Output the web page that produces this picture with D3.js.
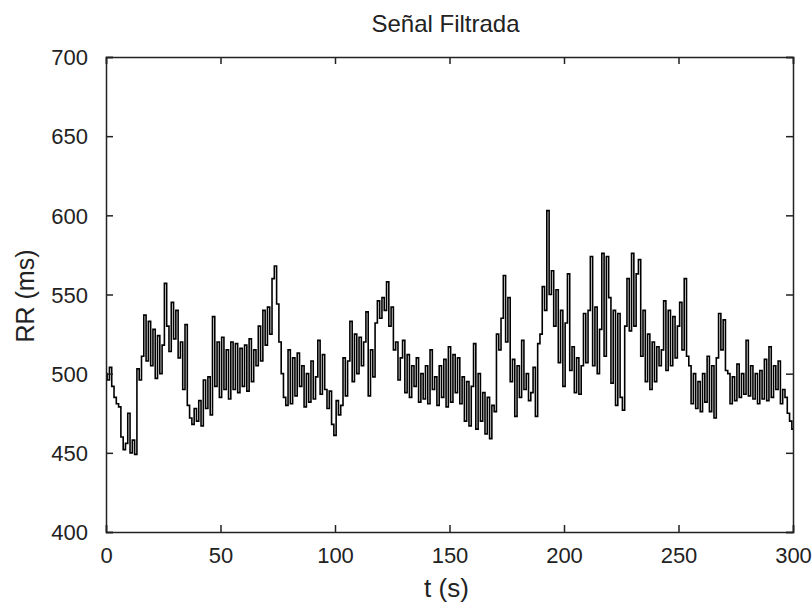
<!DOCTYPE html>
<html>
<head>
<meta charset="utf-8">
<script src="https://cdn.jsdelivr.net/npm/d3@7"></script>
<style>
  html, body { margin: 0; padding: 0; background: #fff; }
  svg { display: block; }
  text { font-family: "Liberation Sans", Arial, sans-serif; fill: #222; }
</style>
</head>
<body>
<svg id="chart" width="812" height="603"></svg>
<script>
// ---- Data ----
const title = "Señal Filtrada";
const xLabel = "t (s)";
const yLabel = "RR (ms)";
const xTicks = [0, 50, 100, 150, 200, 250, 300];
const yTicks = [400, 450, 500, 550, 600, 650, 700];
const timeStart = 0;      // s, first sample
const timeStep = 1;       // s, sample spacing
const rrValues = [
  500, 496, 504, 492, 485, 481, 479, 460, 452, 456,
  475, 450, 458, 449, 503, 496, 511, 537, 508, 533,
  505, 528, 497, 524, 500, 518, 557, 530, 514, 545,
  522, 540, 510, 520, 490, 531, 480, 472, 468, 478,
  470, 483, 467, 496, 478, 498, 474, 536, 492, 520,
  485, 523, 490, 515, 484, 520, 490, 519, 488, 516,
  492, 518, 489, 522, 495, 515, 505, 530, 508, 540,
  518, 542, 525, 560, 568, 544, 520, 500, 485, 480,
  515, 481, 510, 486, 513, 492, 505, 479, 500, 482,
  508, 484, 498, 521, 487, 512, 490, 478, 489, 468,
  461, 483, 474, 480, 510, 486, 508, 533, 495, 525,
  500, 523, 505, 520, 539, 486, 515, 498, 532, 546,
  535, 548, 540, 558, 530, 542, 515, 520, 496, 510,
  521, 488, 512, 485, 505, 492, 510, 482, 500, 484,
  505, 481, 515, 490, 498, 480, 505, 485, 509, 479,
  517, 482, 512, 488, 510, 481, 498, 470, 495, 467,
  492, 519, 465, 500, 470, 488, 462, 485, 459, 480,
  476, 525, 515, 535, 562, 520, 548, 495, 509, 473,
  505, 485, 521, 490, 500, 483, 488, 504, 473, 519,
  525, 555, 540, 603, 550, 565, 530, 553, 507, 540,
  492, 532, 563, 502, 517, 488, 510, 487, 505, 538,
  507, 540, 574, 505, 542, 500, 528, 576, 511, 574,
  548, 494, 540, 480, 538, 485, 477, 530, 560, 527,
  576, 530, 563, 572, 511, 540, 495, 525, 490, 520,
  495, 517, 505, 515, 546, 502, 540, 505, 536, 510,
  530, 545, 515, 560, 511, 505, 481, 500, 478, 495,
  476, 500, 482, 511, 476, 505, 472, 510, 538, 515,
  534, 502, 500, 481, 498, 483, 506, 485, 500, 487,
  521, 486, 505, 484, 500, 481, 502, 484, 509, 483,
  517, 485, 505, 490, 508, 481, 490, 485, 475, 470,
  465
];

(function () {
  const svg = d3.select("#chart");
  const L = 106, R = 793, T = 57, B = 532;

  const x = d3.scaleLinear().domain([0, 300]).range([L, R]);
  const y = d3.scaleLinear().domain([400, 700]).range([B, T]);

  const pts = rrValues.map((v, i) => [timeStart + i * timeStep, v]);

  const line = d3.line().curve(d3.curveStep).x(d => x(d[0])).y(d => y(d[1]));
  svg.append("path")
    .datum(pts)
    .attr("d", line)
    .attr("fill", "none")
    .attr("stroke", "#000")
    .attr("stroke-width", 1.6);

  const tickLen = 7;
  const axStroke = "#222";

  const gBottom = svg.append("g").attr("transform", `translate(0,${B})`)
    .call(d3.axisBottom(x).tickValues(xTicks).tickSize(-tickLen).tickPadding(tickLen + 17).tickFormat(d3.format("d")));
  const gTop = svg.append("g").attr("transform", `translate(0,${T})`)
    .call(d3.axisTop(x).tickValues(xTicks).tickSize(-tickLen).tickFormat(""));
  const gLeft = svg.append("g").attr("transform", `translate(${L},0)`)
    .call(d3.axisLeft(y).tickValues(yTicks).tickSize(-tickLen).tickPadding(tickLen + 11).tickFormat(d3.format("d")));
  const gRight = svg.append("g").attr("transform", `translate(${R},0)`)
    .call(d3.axisRight(y).tickValues(yTicks).tickSize(-tickLen).tickFormat(""));

  [gBottom, gTop, gLeft, gRight].forEach(g => {
    g.select(".domain").attr("stroke", axStroke).attr("stroke-width", 1.5);
    g.selectAll(".tick line").attr("stroke", axStroke).attr("stroke-width", 1.5);
    g.selectAll("text").style("font-family", "'Liberation Sans', Arial, sans-serif").attr("fill", "#333");
  });
  gBottom.selectAll("text").style("font-size", "22px").attr("dy", "0.3em");
  gLeft.selectAll("text").style("font-size", "22px").attr("dy", "0.35em");

  svg.append("text")
    .attr("x", x(150) - 4).attr("y", 32)
    .attr("text-anchor", "middle")
    .style("font-size", "24px")
    .text(title);

  svg.append("text")
    .attr("x", x(150) - 3).attr("y", 597)
    .attr("text-anchor", "middle")
    .style("font-size", "26px")
    .text(xLabel);

  svg.append("text")
    .attr("transform", `translate(34,296) rotate(-90)`)
    .attr("text-anchor", "middle")
    .style("font-size", "25px")
    .text(yLabel);
})();
</script>
</body>
</html>
